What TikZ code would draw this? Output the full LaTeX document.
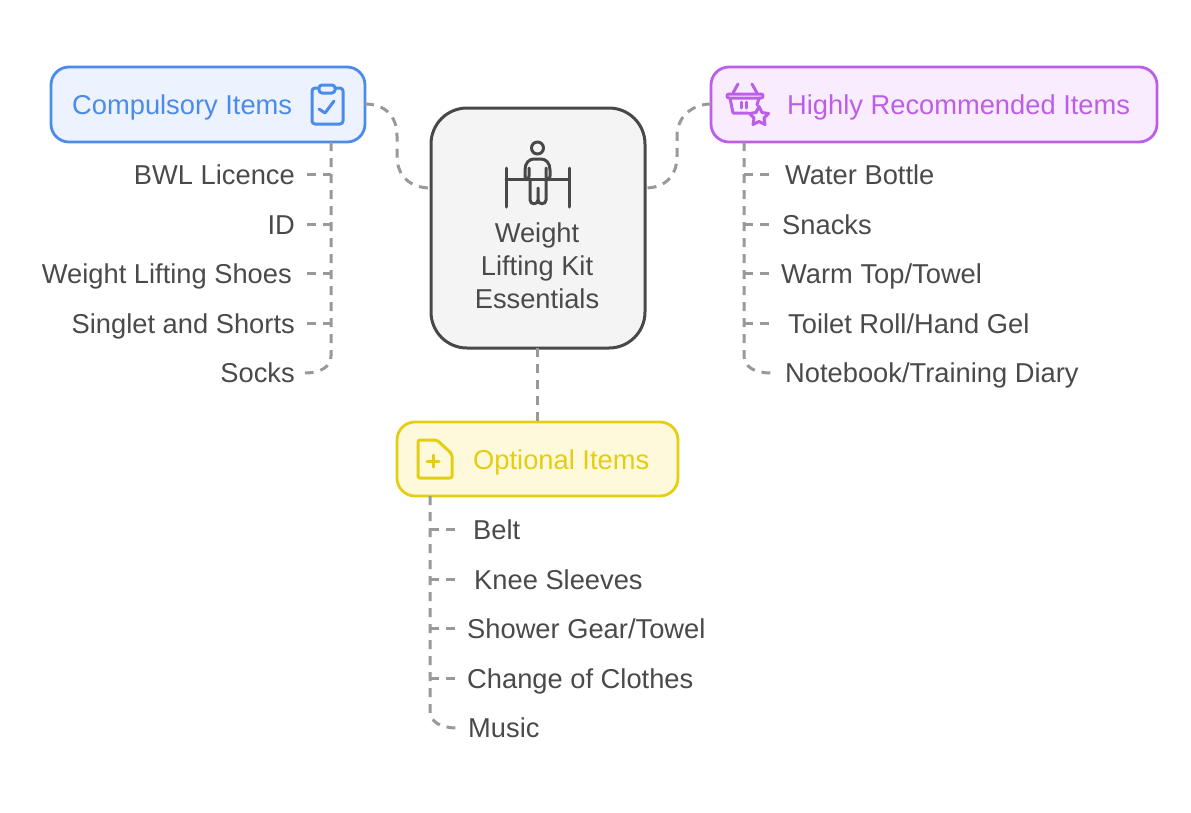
\documentclass[tikz,border=0pt]{standalone}
\usepackage{fontspec}
\setmainfont{Liberation Sans}
\definecolor{txt}{HTML}{4A4A4A}
\definecolor{dashc}{HTML}{999999}
\definecolor{blues}{HTML}{4C8BEA}
\definecolor{bluef}{HTML}{ECF3FF}
\definecolor{purs}{HTML}{BC5FE8}
\definecolor{purf}{HTML}{F9ECFF}
\definecolor{yels}{HTML}{E4CE12}
\definecolor{yelf}{HTML}{FFF9DB}
\definecolor{cens}{HTML}{484848}
\definecolor{cenf}{HTML}{F4F4F4}
\tikzset{
 x=1pt,y=-1pt,
 boxn/.style={draw,line width=2.8pt,rounded corners=18pt,inner sep=0pt,outer sep=0pt,anchor=north west},
 item/.style={font=\fontsize{27.3}{32}\selectfont,text=txt,inner sep=0pt,text height=20pt,text depth=6pt},
 head/.style={font=\fontsize{27.3}{32}\selectfont,inner sep=0pt,text height=20pt,text depth=6pt},
 conn/.style={draw=dashc,line width=3pt,dash pattern=on 9pt off 7pt},
 icon/.style={line width=3pt,line cap=round,line join=round},
}
\begin{document}
\begin{tikzpicture}
\useasboundingbox (0,0) rectangle (1191,812);
\fill[white] (0,0) rectangle (1191,812);
% boxes
\node[boxn,draw=blues,fill=bluef,minimum width=314pt,minimum height=75pt] (comp) at (51,67) {};
\node[boxn,draw=purs,fill=purf,minimum width=446pt,minimum height=75pt] (high) at (711,67) {};
\node[boxn,draw=yels,fill=yelf,minimum width=281pt,minimum height=74pt] (opt) at (397,422) {};
\node[boxn,draw=cens,fill=cenf,line width=3pt,rounded corners=36pt,minimum width=214pt,minimum height=240pt] (cen) at (431,108) {};
% header text
\node[head,text=blues,anchor=west] (compt) at (72,107.5) {Compulsory Items};
\node[head,text=purs,anchor=west] (hight) at (787,107.5) {Highly Recommended Items};
\node[head,text=yels,anchor=west] (optt) at (473,462.5) {Optional Items};
\node[item,anchor=center] (c1) at (537,235.5) {Weight};
\node[item,anchor=center] (c2) at (537,268.5) {Lifting Kit};
\node[item,anchor=center] (c3) at (537,301.5) {Essentials};
% items left
\node[item,anchor=east] (l1) at (295,177.5) {BWL Licence};
\node[item,anchor=east] (l2) at (295,227.5) {ID};
\node[item,anchor=east] (l3) at (292,276.5) {Weight Lifting Shoes};
\node[item,anchor=east] (l4) at (295,326.5) {Singlet and Shorts};
\node[item,anchor=east] (l5) at (295,375.5) {Socks};
% items right
\node[item,anchor=west] (r1) at (785,177.5) {Water Bottle};
\node[item,anchor=west] (r2) at (782,227.5) {Snacks};
\node[item,anchor=west] (r3) at (781,276.5) {Warm Top/Towel};
\node[item,anchor=west] (r4) at (788,326.5) {Toilet Roll/Hand Gel};
\node[item,anchor=west] (r5) at (785,375.5) {Notebook/Training Diary};
% items optional
\node[item,anchor=west] (o1) at (473,532.5) {Belt};
\node[item,anchor=west] (o2) at (474,582.5) {Knee Sleeves};
\node[item,anchor=west] (o3) at (467,631.5) {Shower Gear/Towel};
\node[item,anchor=west] (o4) at (467,681.5) {Change of Clothes};
\node[item,anchor=west] (o5) at (468,730.5) {Music};
% connectors
\draw[conn] (comp.east |- 0,104) .. controls (385,104) and (397,116) .. (397,136) -- (397,156) .. controls (397,176) and (410,188) .. (cen.west |- 0,188);
\draw[conn] (high.west |- 0,104) .. controls (693,104) and (677,116) .. (677,136) -- (677,156) .. controls (677,176) and (665,188) .. (cen.east |- 0,188);
\draw[conn] (cen.south -| 537.5,0) -- (opt.north -| 537.5,0);
% left trunk
\draw[conn] (331,142) -- (331,356) .. controls (331,367) and (320,373) .. (305,373);
\foreach \n/\y in {l1/174,l2/224,l3/273,l4/323}{\draw[conn] (307,\y) -- (331,\y);}
% right trunk
\draw[conn] (744,142) -- (744,356) .. controls (744,367) and (755,373) .. (771,373);
\foreach \n/\y in {r1/174,r2/224,r3/273,r4/323}{\draw[conn] (744,\y) -- (769,\y);}
% optional trunk
\draw[conn] (430,496) -- (430,711) .. controls (430,722) and (441,728) .. (457,728);
\foreach \n/\y in {o1/529,o2/579,o3/628,o4/678}{\draw[conn] (430,\y) -- (455,\y);}
% person icon
\begin{scope}[icon,draw=cens]
\draw (537.5,148) circle (6);
\draw (506,168) -- (506,207);
\draw (569,168) -- (569,207);
\draw (506,179) -- (569,179);
\draw (525,176) -- (525,170) .. controls (525,163) and (529,159) .. (534,159) -- (541,159) .. controls (546,159) and (550,163) .. (550,170) -- (550,176) .. controls (550,181) and (546,181) .. (546,176) -- (546,168);
\draw (525,176) .. controls (525,181) and (529,181) .. (529,176) -- (529,168);
\draw (530,181) -- (530,200) .. controls (530,205) and (538,205) .. (538,200) -- (538,188);
\draw (546,181) -- (546,200) .. controls (546,205) and (538,205) .. (538,200);
\end{scope}
% clipboard icon
\begin{scope}[icon,draw=blues]
\draw[rounded corners=3pt] (319,88) -- (312,88) -- (312,124) -- (343,124) -- (343,88) -- (335,88);
\draw[rounded corners=3pt,fill=bluef] (319,85) rectangle (335,93);
\draw (319,109) -- (325,113) -- (334,101);
\end{scope}
% basket icon
\begin{scope}[icon,draw=purs]
\draw[rounded corners=2pt] (727,94) -- (763,94) -- (763,98) -- (727,98) -- cycle;
\draw (733,93) -- (738,84);
\draw (757,93) -- (752,84);
\draw (730,98) -- (733,113) -- (748,113);
\draw (759,98) -- (757,105);
\draw (741,102) -- (741,108);
\draw (746,102) -- (746,108);
\draw (759,106.5) -- (762,112.5) -- (768.5,113.5) -- (764,118) -- (765,124.5) -- (759,121.5) -- (753,124.5) -- (754,118) -- (749.5,113.5) -- (756,112.5) -- cycle;
\end{scope}
% file plus icon
\begin{scope}[icon,draw=yels]
\draw[rounded corners=2pt] (418,440) -- (437,440) -- (452,454) -- (452,478) -- (418,478) -- cycle;
\draw (433,455) -- (433,467);
\draw (427,461) -- (439,461);
\end{scope}
\end{tikzpicture}
\end{document}
